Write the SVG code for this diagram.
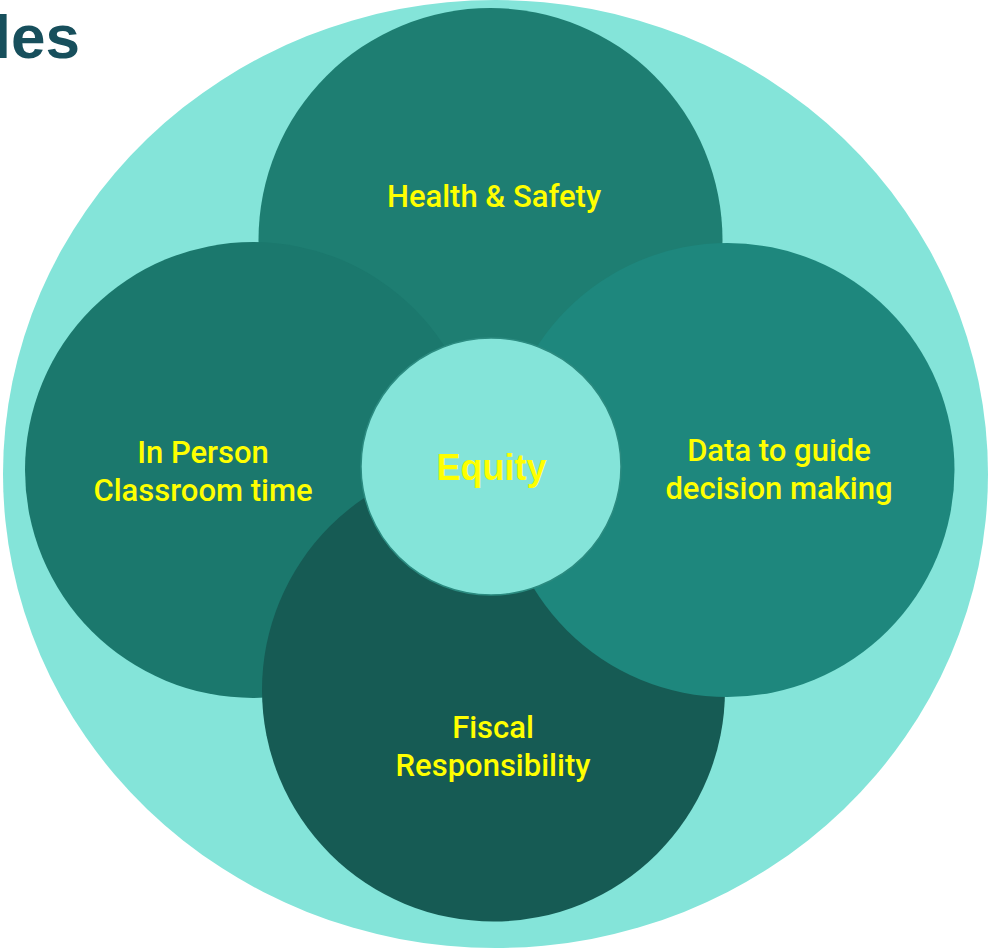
<svg xmlns="http://www.w3.org/2000/svg" width="990" height="948" viewBox="0 0 990 948">
<style>
.lbl{font-family:Roboto,"Liberation Sans",sans-serif;font-size:31px;font-weight:500;fill:#FFFF00;text-anchor:middle}
.eq{font-family:"Liberation Sans",Arial,sans-serif;font-size:36px;font-weight:bold;fill:#FFFF00;text-anchor:middle}
.title{font-family:"Liberation Sans",Arial,sans-serif;font-size:62px;font-weight:bold;fill:#174F5C;text-anchor:end}
</style>
<rect width="990" height="948" fill="#FFFFFF"/>
<text class="title" x="80" y="58">les</text>
<g id="outer"><ellipse cx="495.5" cy="474" rx="492.5" ry="474" fill="#84E4D9"/></g>
<g id="health"><circle cx="490.5" cy="240" r="232" fill="#1E7E72"/><text class="lbl" x="494" y="207">Health &amp; Safety</text></g>
<g id="inperson"><circle cx="253" cy="470" r="228" fill="#1B786D"/><text class="lbl" x="203" y="463">In Person</text><text class="lbl" x="203" y="501">Classroom time</text></g>
<g id="fiscal"><circle cx="493.5" cy="690" r="231.5" fill="#165B54"/><text class="lbl" x="493" y="738">Fiscal</text><text class="lbl" x="493" y="776">Responsibility</text></g>
<g id="data"><circle cx="727.5" cy="470" r="227" fill="#1E877D"/><text class="lbl" x="779" y="461">Data to guide</text><text class="lbl" x="779" y="499">decision making</text></g>
<g id="equity"><ellipse cx="491" cy="466.5" rx="130" ry="128.5" fill="#84E4D9" stroke="#2B8B80" stroke-width="1.5"/><text class="eq" x="491.5" y="480">Equity</text></g>
<g id="connectors"></g>
</svg>
